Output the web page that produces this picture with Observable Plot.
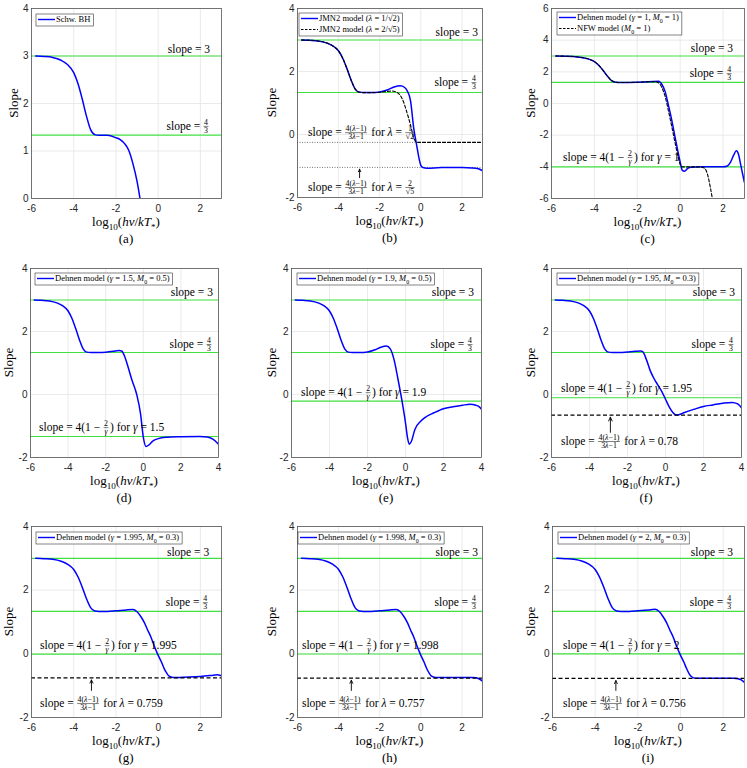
<!DOCTYPE html>
<html><head><meta charset="utf-8">
<script src="https://cdn.jsdelivr.net/npm/d3@7"></script>
<script src="https://cdn.jsdelivr.net/npm/@observablehq/plot@0.6"></script>
<style>
body{margin:0;background:#fff}
#wrap{position:relative;width:747px;height:768px;overflow:hidden;background:#fff}
#wrap svg{position:absolute}
text{white-space:pre}
</style></head><body><div id="wrap"></div>
<script>
// ---------- data ----------
const upperX = [-5.8,-5.4,-5.0,-4.6,-4.3,-4.0,-3.8,-3.6,-3.4,-3.2,-3.0,-2.8,-2.4];
const upperY = [3.0,2.99,2.97,2.91,2.82,2.65,2.42,2.10,1.74,1.45,1.345,1.33,1.33];

const aX = [-2.0,-1.8,-1.6,-1.4,-1.2,-1.0,-0.86];
const aY = [1.28,1.24,1.16,1.02,0.74,0.36,0.0];

const bBlueX = [-2.0,-1.6,-1.3,-1.0,-0.8,-0.65,-0.5,-0.35,-0.2,-0.1,0.0,0.1,0.3,1.0,2.0,2.5,2.8,3.0];
const bBlueY = [1.35,1.42,1.51,1.55,1.50,1.37,1.07,0.22,-0.35,-0.72,-0.98,-1.05,-1.07,-1.05,-1.05,-1.06,-1.09,-1.15];
const bDashX = [-2.0,-1.6,-1.4,-1.2,-1.0,-0.85,-0.7,-0.5,-0.35,-0.25,-0.1,0.5,3.0];
const bDashY = [1.34,1.37,1.38,1.35,1.24,1.05,0.75,0.3,-0.1,-0.22,-0.25,-0.25,-0.25];

const cBlueX = [-2.0,-1.5,-1.0,-0.85,-0.7,-0.55,-0.4,-0.25,-0.1,0.0,0.1,0.2,0.35,0.5,1.0,2.0,2.2,2.35,2.5,2.62,2.72,2.82,2.92,3.0];
const cBlueY = [1.34,1.38,1.40,1.2,0.75,-0.1,-1.0,-2.05,-3.05,-3.7,-4.22,-4.28,-4.1,-4.02,-4.0,-4.0,-3.95,-3.7,-3.25,-2.98,-3.2,-3.85,-4.5,-5.0];
const cDashX = [-2.0,-1.5,-1.2,-1.0,-0.85,-0.7,-0.55,-0.4,-0.25,-0.1,0.0,0.1,0.5,1.0,1.1,1.2,1.3,1.4,1.5];
const cDashY = [1.34,1.37,1.38,1.3,1.0,0.45,-0.45,-1.4,-2.4,-3.35,-3.85,-4.0,-4.0,-4.02,-4.06,-4.2,-4.6,-5.25,-6.0];

const dX = [-2.0,-1.6,-1.3,-1.15,-1.0,-0.85,-0.6,-0.35,-0.15,0.0,0.15,0.3,0.5,0.8,1.2,2.0,3.0,3.4,3.7,4.0];
const dY = [1.34,1.37,1.40,1.38,1.22,0.95,0.45,0.0,-0.6,-1.35,-1.65,-1.6,-1.48,-1.40,-1.36,-1.34,-1.33,-1.35,-1.42,-1.58];

const eX = [-2.0,-1.6,-1.3,-1.0,-0.8,-0.6,-0.4,-0.2,0.0,0.1,0.2,0.3,0.5,0.8,1.0,1.5,2.0,2.5,3.0,3.4,3.7,3.9,4.0];
const eY = [1.35,1.42,1.50,1.54,1.45,1.1,0.5,-0.15,-0.9,-1.35,-1.58,-1.5,-1.1,-0.85,-0.74,-0.58,-0.45,-0.39,-0.34,-0.31,-0.34,-0.4,-0.47];

const fX = [-2.0,-1.6,-1.3,-1.2,-1.0,-0.8,-0.6,-0.4,-0.2,0.0,0.2,0.4,0.55,0.7,1.0,1.5,2.0,2.5,3.0,3.5,3.8,4.0];
const fY = [1.35,1.37,1.38,1.36,1.1,0.75,0.5,0.3,0.1,-0.15,-0.4,-0.58,-0.65,-0.64,-0.57,-0.47,-0.38,-0.33,-0.28,-0.25,-0.3,-0.42];

const gX = [-2.0,-1.5,-1.2,-1.0,-0.8,-0.66,-0.5,-0.34,-0.2,-0.03,0.15,0.29,0.4,0.52,0.7,1.0,1.5,2.0,2.5,2.8,3.0];
const gY = [1.35,1.38,1.39,1.32,1.15,0.99,0.75,0.52,0.27,0.0,-0.25,-0.47,-0.6,-0.70,-0.74,-0.74,-0.73,-0.71,-0.68,-0.66,-0.69];

const hX = [-2.0,-1.5,-1.2,-1.0,-0.8,-0.66,-0.5,-0.34,-0.2,-0.03,0.15,0.29,0.4,0.52,0.7,1.0,1.5,2.0,2.5,2.7,2.85,3.0];
const hY = [1.35,1.38,1.39,1.32,1.15,0.99,0.75,0.52,0.27,0.0,-0.25,-0.47,-0.6,-0.70,-0.74,-0.74,-0.74,-0.74,-0.74,-0.75,-0.79,-0.86];

const iX = [-2.0,-1.5,-1.2,-1.0,-0.8,-0.66,-0.5,-0.34,-0.2,-0.03,0.15,0.29,0.4,0.52,0.7,1.0,1.5,2.0,2.5,2.7,2.85,3.0];
const iY = [1.35,1.38,1.40,1.33,1.15,0.99,0.75,0.52,0.27,0.0,-0.25,-0.47,-0.62,-0.72,-0.77,-0.77,-0.77,-0.77,-0.77,-0.78,-0.82,-0.9];

// reference levels
const slopeRefs = [3, 4/3];
const gammaLevels = {c:-4, d:-1.333, e:-0.21, f:-0.103, g:-0.01, h:-0.004, i:0};
const lambdaLevels = {b:[-0.25,-1.045], f:-0.657, g:-0.755, h:-0.765, i:-0.770};
const gammaText = {c:"1", d:"1.5", e:"1.9", f:"1.95", g:"1.995", h:"1.998", i:"2"};
const lambdaText = {f:"0.78", g:"0.759", h:"0.757", i:"0.756"};

const xTicks9 = [-6,-4,-2,0,2];
const xTicks10 = [-6,-4,-2,0,2,4];
const yTicksA = [0,1,2,3,4];
const yTicksB = [-2,0,2,4];
const yTicksC = [-6,-4,-2,0,2,4,6];

const legendA = ["Schw. BH"];
const legendB = ["JMN2 model (_λ_ = 1/√2)", "JMN2 model (_λ_ = 2/√5)"];
const legendC = ["Dehnen model (_γ_ = 1, _M_~0~ = 1)", "NFW model (_M_~0~ = 1)"];
const legendD = ["Dehnen model (_γ_ = 1.5, _M_~0~ = 0.5)"];
const legendE = ["Dehnen model (_γ_ = 1.9, _M_~0~ = 0.5)"];
const legendF = ["Dehnen model (_γ_ = 1.95, _M_~0~ = 0.3)"];
const legendG = ["Dehnen model (_γ_ = 1.995, _M_~0~ = 0.3)"];
const legendH = ["Dehnen model (_γ_ = 1.998, _M_~0~ = 0.3)"];
const legendI = ["Dehnen model (_γ_ = 2, _M_~0~ = 0.3)"];
const captions = ["(a)","(b)","(c)","(d)","(e)","(f)","(g)","(h)","(i)"];
const xLabel = "log~10~(_hν_/_kT_~*~)";
const yLabel = "Slope";

// ---------- helpers ----------
const BLUE = "#0000ff", GREEN = "#3fe03f";
const SERIF = "'Liberation Serif','Times New Roman',serif";
const T = s => ({s});
const F = (n, d) => ({frac:[n, d]});
const S3 = [T("slope = 3")];
const S43 = [T("slope = "), F("4","3")];
const gammaLabel = v => [T("slope = 4(1 − "), F("2","_γ_"), T(") for _γ_ = " + v)];
const lambdaLabel = v => [T("slope = "), F("4(_λ_−1)","3_λ_−1"), T(" for _λ_ = " + v)];
const lambdaFracLabel = (n, d) => [T("slope = "), F("4(_λ_−1)","3_λ_−1"), T(" for _λ_ = "), F(n, d)];

function parseRuns(str){
  const runs=[]; let it=false, sub=false, buf="";
  const flush=()=>{ if(buf) runs.push({text:buf,it,sub}); buf=""; };
  for (const ch of str){
    if (ch==="_"){flush(); it=!it;}
    else if (ch==="~"){flush(); sub=!sub;}
    else buf+=ch;
  }
  flush(); return runs;
}
function addRuns(sel, str, fs){
  let shifted=false;
  for (const r of parseRuns(str)){
    const ts = sel.append("tspan").text(r.text)
      .attr("font-size", r.sub ? fs*0.7 : fs)
      .attr("font-style", r.it ? "italic" : "normal");
    if (r.sub && !shifted){ ts.attr("dy", fs*0.28); shifted=true; }
    else if (!r.sub && shifted){ ts.attr("dy", -fs*0.28); shifted=false; }
  }
}
function drawMath(svg, x, yc, tokens, fs, anchor){
  const g = svg.append("g").attr("font-family", SERIF).attr("fill","#000").attr("text-anchor","start");
  let cx = 0;
  const axis = -fs*0.3;
  for (const tk of tokens){
    if (tk.frac){
      const sfs = fs*0.68;
      const num = g.append("text").attr("text-anchor","middle").attr("font-size", sfs);
      addRuns(num, tk.frac[0], sfs);
      const den = g.append("text").attr("text-anchor","middle").attr("font-size", sfs);
      addRuns(den, tk.frac[1], sfs);
      const w = Math.max(num.node().getComputedTextLength(), den.node().getComputedTextLength()) + 2;
      num.attr("x", cx + w/2).attr("y", axis - 1.4);
      den.attr("x", cx + w/2).attr("y", axis + sfs*0.8);
      g.append("line").attr("x1", cx+0.5).attr("x2", cx+w-0.5).attr("y1", axis).attr("y2", axis)
        .attr("stroke","#000").attr("stroke-width",0.5);
      cx += w + 1;
    } else {
      const t = g.append("text").attr("text-anchor","start").attr("x", cx).attr("y", 0).attr("font-size", fs);
      addRuns(t, tk.s, fs);
      cx += t.node().getComputedTextLength();
    }
  }
  const dx = anchor==="end" ? -cx : anchor==="middle" ? -cx/2 : 0;
  g.attr("transform", `translate(${x+dx},${yc + fs*0.35})`);
}
function drawLegend(svg, x, y, entries, fs){
  const g = svg.append("g").attr("font-family", SERIF).attr("text-anchor","start");
  const rect = g.append("rect");
  let maxW = 0;
  entries.forEach((e, i) => {
    const ry = y + 5.5 + i*11;
    g.append("line").attr("x1", x+2).attr("x2", x+19).attr("y1", ry).attr("y2", ry)
      .attr("stroke", e.color).attr("stroke-width", e.dash ? 1.1 : 1.4)
      .attr("stroke-dasharray", e.dash ? "2.5,1.5" : null);
    const t = g.append("text").attr("text-anchor","start").attr("x", x+20).attr("y", ry + fs*0.35)
      .attr("font-size", fs).attr("fill","#000");
    addRuns(t, e.label, fs);
    maxW = Math.max(maxW, t.node().getComputedTextLength());
  });
  rect.attr("x", x).attr("y", y).attr("width", maxW + 23).attr("height", entries.length*11 + 1)
    .attr("fill","#fff").attr("stroke","#333").attr("stroke-width",0.6);
}
const fmt = d => d < 0 ? "-" + (-d) : String(d);

// ---------- panels ----------
const panels = [
  {cell:[0,0,250,255], frame:[31,8,221,198], xd:[-6,3], yd:[0,4], xt:xTicks9, yt:yTicksA, ylab:13,
   curves:[{x:upperX.concat(aX), y:upperY.concat(aY), stroke:BLUE}],
   greens:slopeRefs, legend:[{label:legendA[0], color:BLUE}], leg:[5,6],
   notes:[{x:2.48, y:3.14, tk:S3, a:"end"}, {x:2.48, y:1.52, tk:S43, a:"end"}]},
  {cell:[250,0,247,255], frame:[297,8,482,197], xd:[-6,3], yd:[-2,4], xt:xTicks9, yt:yTicksB, ylab:271,
   curves:[{x:upperX.concat(bBlueX), y:upperY.concat(bBlueY), stroke:BLUE},
           {x:upperX.concat(bDashX), y:upperY.concat(bDashY), stroke:"#000", dash:"3,2", w:1.1}],
   greens:slopeRefs, dotted:lambdaLevels.b,
   legend:[{label:legendB[0], color:BLUE},{label:legendB[1], color:"#000", dash:true}], leg:[2,5],
   arrow:{x:-2.98, y1:-1.37, y2:-1.1},
   notes:[{x:2.8, y:3.24, tk:S3, a:"end"}, {x:2.8, y:1.65, tk:S43, a:"end"},
          {x:-5.46, y:0.06, tk:lambdaFracLabel("1","√2"), a:"start"},
          {x:-5.46, y:-1.68, tk:lambdaFracLabel("2","√5"), a:"start"}]},
  {cell:[497,0,250,255], frame:[551,8,744,198], xd:[-6,3], yd:[-6,6], xt:xTicks9, yt:yTicksC, ylab:530,
   curves:[{x:upperX.concat(cBlueX), y:upperY.concat(cBlueY), stroke:BLUE},
           {x:upperX.concat(cDashX), y:upperY.concat(cDashY), stroke:"#000", dash:"3,2", w:1.1}],
   greens:slopeRefs.concat([gammaLevels.c]),
   legend:[{label:legendC[0], color:BLUE},{label:legendC[1], color:"#000", dash:true}], leg:[6,4],
   notes:[{x:2.49, y:3.47, tk:S3, a:"end"}, {x:2.49, y:1.89, tk:S43, a:"end"},
          {x:-5.44, y:-3.41, tk:gammaLabel(gammaText.c), a:"start"}]},
  {cell:[0,255,250,255], frame:[30,268,218,457], xd:[-6,4], yd:[-2,4], xt:xTicks10, yt:yTicksB, ylab:8,
   curves:[{x:upperX.concat(dX), y:upperY.concat(dY), stroke:BLUE}],
   greens:slopeRefs.concat([gammaLevels.d]), legend:[{label:legendD[0], color:BLUE}], leg:[5,5],
   notes:[{x:3.73, y:3.24, tk:S3, a:"end"}, {x:3.73, y:1.59, tk:S43, a:"end"},
          {x:-5.52, y:-1.05, tk:gammaLabel(gammaText.d), a:"start"}]},
  {cell:[250,255,247,255], frame:[291,268,481,457], xd:[-6,4], yd:[-2,4], xt:xTicks10, yt:yTicksB, ylab:271,
   curves:[{x:upperX.concat(eX), y:upperY.concat(eY), stroke:BLUE}],
   greens:slopeRefs.concat([gammaLevels.e]), legend:[{label:legendE[0], color:BLUE}], leg:[6,5],
   notes:[{x:3.63, y:3.24, tk:S3, a:"end"}, {x:3.63, y:1.59, tk:S43, a:"end"},
          {x:-5.47, y:0.06, tk:gammaLabel(gammaText.e), a:"start"}]},
  {cell:[497,255,250,255], frame:[551,268,741,457], xd:[-6,4], yd:[-2,4], xt:xTicks10, yt:yTicksB, ylab:530,
   curves:[{x:upperX.concat(fX), y:upperY.concat(fY), stroke:BLUE}],
   greens:slopeRefs.concat([gammaLevels.f]), dashed:[lambdaLevels.f],
   legend:[{label:legendF[0], color:BLUE}], leg:[6,5],
   arrow:{x:-2.9, y1:-1.2, y2:-0.72},
   notes:[{x:3.68, y:3.24, tk:S3, a:"end"}, {x:3.68, y:1.59, tk:S43, a:"end"},
          {x:-5.47, y:0.19, tk:gammaLabel(gammaText.f), a:"start"},
          {x:-5.47, y:-1.49, tk:lambdaLabel(lambdaText.f), a:"start"}]},
  {cell:[0,510,250,258], frame:[31,526,221,717], xd:[-6,3], yd:[-2,4], xt:xTicks9, yt:yTicksB, ylab:8,
   curves:[{x:upperX.concat(gX), y:upperY.concat(gY), stroke:BLUE}],
   greens:slopeRefs.concat([gammaLevels.g]), dashed:[lambdaLevels.g],
   legend:[{label:legendG[0], color:BLUE}], leg:[5,6],
   arrow:{x:-3.16, y1:-1.15, y2:-0.82},
   notes:[{x:2.44, y:3.18, tk:S3, a:"end"}, {x:2.44, y:1.61, tk:S43, a:"end"},
          {x:-5.57, y:0.26, tk:gammaLabel(gammaText.g), a:"start"},
          {x:-5.57, y:-1.56, tk:lambdaLabel(lambdaText.g), a:"start"}]},
  {cell:[250,510,247,258], frame:[297,526,482,717], xd:[-6,3], yd:[-2,4], xt:xTicks9, yt:yTicksB, ylab:271,
   curves:[{x:upperX.concat(hX), y:upperY.concat(hY), stroke:BLUE}],
   greens:slopeRefs.concat([gammaLevels.h]), dashed:[lambdaLevels.h],
   legend:[{label:legendH[0], color:BLUE}], leg:[1,6],
   arrow:{x:-3.38, y1:-1.15, y2:-0.83},
   notes:[{x:2.8, y:3.18, tk:S3, a:"end"}, {x:2.8, y:1.61, tk:S43, a:"end"},
          {x:-5.76, y:0.26, tk:gammaLabel(gammaText.h), a:"start"},
          {x:-5.76, y:-1.56, tk:lambdaLabel(lambdaText.h), a:"start"}]},
  {cell:[497,510,250,258], frame:[552,526,744,717], xd:[-6,3], yd:[-2,4], xt:xTicks9, yt:yTicksB, ylab:530,
   curves:[{x:upperX.concat(iX), y:upperY.concat(iY), stroke:BLUE}],
   greens:slopeRefs.concat([gammaLevels.i]), dashed:[lambdaLevels.i],
   legend:[{label:legendI[0], color:BLUE}], leg:[6,6],
   arrow:{x:-3.03, y1:-1.15, y2:-0.84},
   notes:[{x:2.49, y:3.18, tk:S3, a:"end"}, {x:2.49, y:1.61, tk:S43, a:"end"},
          {x:-5.48, y:0.26, tk:gammaLabel(gammaText.i), a:"start"},
          {x:-5.48, y:-1.56, tk:lambdaLabel(lambdaText.i), a:"start"}]},
];

const wrap = document.getElementById("wrap");
panels.forEach((p, k) => {
  const [cx, cy, cw, ch] = p.cell;
  const [fl, ft, fr, fb] = p.frame;
  const marks = [
    Plot.ruleX(p.xt, {stroke:"#e4e4e4", strokeWidth:0.8}),
    Plot.ruleY(p.yt, {stroke:"#e4e4e4", strokeWidth:0.8}),
    Plot.ruleY(p.greens, {stroke:GREEN, strokeWidth:1.1}),
  ];
  if (p.dotted) marks.push(Plot.ruleY(p.dotted, {stroke:"#666", strokeWidth:0.9, strokeDasharray:"1,1.5"}));
  for (const c of p.curves) {
    marks.push(Plot.line({length:c.x.length}, {x:c.x, y:c.y, stroke:c.stroke, strokeWidth:c.w || 1.5,
      strokeDasharray:c.dash || null, curve:"monotone-x", clip:true}));
  }
  if (p.dashed) marks.push(Plot.ruleY(p.dashed, {stroke:"#000", strokeWidth:1.3, strokeDasharray:"4,2.5"}));
  if (p.arrow) marks.push(Plot.arrow([p.arrow], {x1:"x", x2:"x", y1:"y1", y2:"y2", stroke:"#000", strokeWidth:0.9, headLength:7, headAngle:50}));
  marks.push(Plot.frame({stroke:"#555", strokeWidth:0.8}));

  const node = Plot.plot({
    width:cw, height:ch,
    marginLeft:fl-cx, marginTop:ft-cy, marginRight:cx+cw-fr, marginBottom:cy+ch-fb,
    x:{domain:p.xd, ticks:p.xt, tickSize:0, tickPadding:6, label:null, tickFormat:fmt},
    y:{domain:p.yd, ticks:p.yt, tickSize:0, tickPadding:3, label:null, tickFormat:fmt},
    style:{fontFamily:"'Liberation Sans',Arial,sans-serif", fontSize:"10px", color:"#262626", background:"transparent", overflow:"visible"},
    marks
  });
  node.style.left = cx + "px";
  node.style.top = cy + "px";
  wrap.appendChild(node);

  const svg = d3.select(node);
  const sx = node.scale("x"), sy = node.scale("y");
  const midX = (fl + fr)/2 - cx;
  const xl = svg.append("text").attr("x", midX).attr("y", fb - cy + 28).attr("text-anchor","middle")
    .attr("font-family", SERIF).attr("font-size", 13).attr("fill","#000");
  addRuns(xl, xLabel, 13);
  svg.append("text").attr("x", midX).attr("y", fb - cy + 45).attr("text-anchor","middle")
    .attr("font-family", SERIF).attr("font-size", 13).attr("fill","#000").text(captions[k]);
  svg.append("text").attr("transform", `translate(${p.ylab - cx},${(ft+fb)/2 - cy}) rotate(-90)`)
    .attr("dy","0.35em").attr("text-anchor","middle").attr("font-family", SERIF).attr("font-size", 13)
    .attr("fill","#000").text(yLabel);
  for (const n of p.notes) drawMath(svg, sx.apply(n.x), sy.apply(n.y), n.tk, 11.5, n.a);
  drawLegend(svg, fl - cx + p.leg[0], ft - cy + p.leg[1], p.legend, 8.5);
});
</script></body></html>
